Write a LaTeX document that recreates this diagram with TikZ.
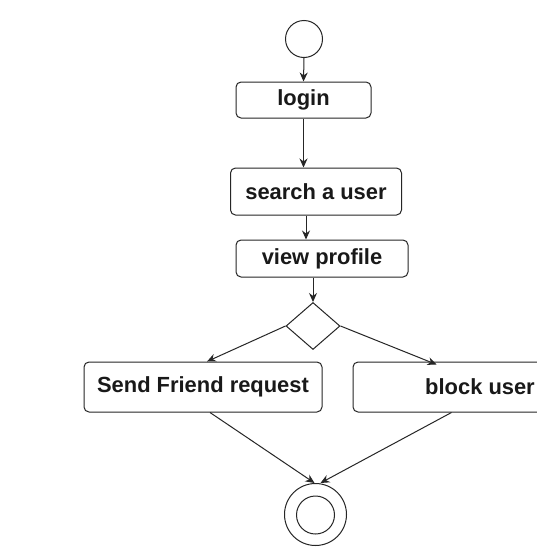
\documentclass[tikz,border=0pt]{standalone}
\usepackage{fontspec}
\setmainfont{Liberation Sans}
\usetikzlibrary{shapes.geometric,arrows.meta}
\begin{document}
\begin{tikzpicture}[x=1pt,y=-1pt,
  act/.style={draw=black!85,line width=1pt,rounded corners=5pt,inner sep=0pt,
    font=\fontsize{21.9}{26}\selectfont\bfseries,text=black!90},
  con/.style={draw=black!85,line width=1pt,-{Stealth[length=9pt,width=8pt]}},
  circ/.style={circle,draw=black!85,line width=1pt,inner sep=0pt}]
\clip (0,0) rectangle (537,552);
\fill[white] (0,0) rectangle (537,552);
\node[circ,minimum size=37pt] (start) at (304,39) {};
\node[act,minimum width=135pt,minimum height=36pt] (login) at (303.5,100) {login};
\node[act,minimum width=171pt,minimum height=47pt] (search) at (316,191.5) {search a user};
\node[act,minimum width=172pt,minimum height=37pt] (view) at (322,258.5) {view profile};
\node[diamond,draw=black!85,line width=1pt,inner sep=0pt,minimum width=54pt,minimum height=47pt,aspect=1.15] (dec) at (313,326) {};
\node[act,minimum width=238pt,minimum height=50pt] (sfr) at (203,387) {Send Friend request};
\node[act,minimum width=254pt,minimum height=50pt] (blk) at (480,387) {block user};
\node[circ,minimum size=62pt] (fin) at (315.5,514.5) {};
\node[circ,minimum size=38pt] (fininner) at (315.5,515) {};
\draw[con] (start.south) -- (login.north);
\draw[con] (login.south) -- (login.south |- search.north);
\draw[con] ([xshift=-10pt]search.south) -- ([xshift=-16pt]view.north);
\draw[con] ([xshift=-9pt]view.south) -- (dec.north);
\draw[con] (dec.west) -- ([xshift=4pt]sfr.north);
\draw[con] (dec.east) -- ([xshift=84pt,yshift=-3pt]blk.north west);
\draw[con] ([xshift=7pt]sfr.south) -- ([xshift=-1pt]fin.north);
\draw[con] ([xshift=99pt]blk.south west) -- ([xshift=5pt]fin.north);
\end{tikzpicture}
\end{document}
